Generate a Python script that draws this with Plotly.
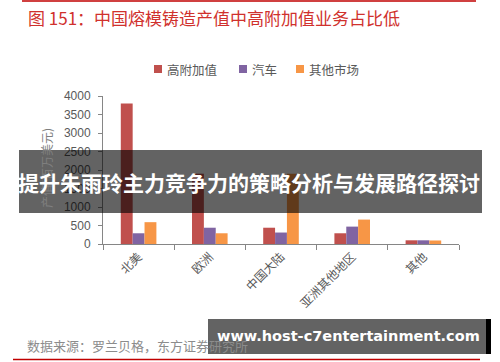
import plotly.graph_objects as go

# ---- data ----
categories = ["北美", "欧洲", "中国大陆", "亚洲其他地区", "其他"]
high_value = [3800, 1900, 440, 290, 100]
auto = [290, 440, 310, 470, 100]
other_market = [590, 290, 1900, 660, 95]
series_names = ["高附加值", "汽车", "其他市场"]
y_ticks = [0, 500, 1000, 1500, 2000, 2500, 3000, 3500, 4000]

W, H = 500, 362
PW, PH = 356, 148
L, T = 103, 96
R, B = W - L - PW, H - T - PH


def px(x):
    return (x - L) / PW


def py(y):
    return (T + PH - y) / PH


CJK = "Noto Sans CJK SC"
colors = ["#C0504D", "#8064A2", "#F79646"]

fig = go.Figure()
for name, vals, c in zip(series_names, [high_value, auto, other_market], colors):
    fig.add_trace(go.Bar(x=categories, y=vals, name=name, marker_color=c,
                         marker_line_width=0, showlegend=False))

fig.update_layout(
    width=W, height=H,
    margin=dict(l=L, r=R, t=T, b=B, autoexpand=False),
    paper_bgcolor="white", plot_bgcolor="white",
    barmode="group", bargap=0.5, bargroupgap=0,
    font=dict(family=CJK, color="#595959", size=12),
)
fig.update_yaxes(range=[0, 4000], tickvals=y_ticks, showgrid=False, zeroline=False,
                 showline=True, linecolor="#868686", linewidth=1,
                 ticks="outside", ticklen=4, tickcolor="#868686",
                 tickfont=dict(family="Liberation Sans, Arial", size=12, color="#595959"),
                 ticklabelstandoff=5, automargin=False)
fig.update_xaxes(showgrid=False, showline=True, linecolor="#868686", linewidth=1,
                 ticks="outside", ticklen=5, tickcolor="#868686", tickson="boundaries",
                 tickangle=-45, tickfont=dict(family=CJK, size=12, color="#595959"),
                 automargin=False)

ann = []
shapes = []
# legend (series names and colours)
legend_sym_x = [154, 239, 296]
for name, c, lx in zip(series_names, colors, legend_sym_x):
    shapes.append(dict(type="rect", xref="paper", yref="paper",
                       x0=px(lx), x1=px(lx + 8), y0=py(65), y1=py(73),
                       fillcolor=c, line_width=0))
    ann.append(dict(x=px(lx + 11), y=py(69), xref="paper", yref="paper",
                    xanchor="left", yanchor="middle", showarrow=False, text=name,
                    font=dict(family=CJK, size=12.5, color="#595959")))

# title
ann.append(dict(x=px(26), y=py(17), xref="paper", yref="paper", xanchor="left",
                yanchor="middle", showarrow=False,
                text="图 151：中国熔模铸造产值中高附加值业务占比低",
                font=dict(family=CJK, size=17, color="#D0312D")))
shapes.append(dict(type="line", xref="paper", yref="paper", x0=px(22), x1=px(476),
                   y0=py(1), y1=py(1), line=dict(color="#C00000", width=1.5)))
# y axis title
ann.append(dict(x=px(46), y=py(168), xref="paper", yref="paper", showarrow=False,
                xanchor="center", yanchor="middle",
                textangle=-90, text="产值(百万美元)",
                font=dict(family=CJK, size=12, color="#7f7f7f")))
# source
ann.append(dict(x=px(25), y=py(345), xref="paper", yref="paper", xanchor="left",
                yanchor="middle", showarrow=False,
                text="数据来源：罗兰贝格，东方证券研究所",
                font=dict(family=CJK, size=13, color="#8c8c8c")))
shapes.append(dict(type="line", xref="paper", yref="paper", x0=px(13), x1=px(480),
                   y0=py(359.5), y1=py(359.5), line=dict(color="#C00000", width=1.5)))

# overlay banner
shapes.append(dict(type="rect", xref="paper", yref="paper", layer="above",
                   x0=px(19), x1=px(482), y0=py(150), y1=py(213),
                   fillcolor="rgba(0,0,0,0.61)", line_width=0))
ann.append(dict(x=px(249), y=py(182), xref="paper", yref="paper", showarrow=False,
                xanchor="center", yanchor="middle",
                text="<b>提升朱雨玲主力竞争力的策略分析与发展路径探讨</b>",
                font=dict(family=CJK, size=21, color="white")))
# watermark
shapes.append(dict(type="rect", xref="paper", yref="paper", layer="above",
                   x0=px(208), x1=px(486), y0=py(319), y1=py(354),
                   fillcolor="rgba(0,0,0,0.61)", line_width=0))
shapes.append(dict(type="rect", xref="paper", yref="paper", layer="above",
                   x0=px(486), x1=px(491), y0=py(319), y1=py(354),
                   fillcolor="black", line_width=0))
ann.append(dict(x=px(348), y=py(336), xref="paper", yref="paper", showarrow=False,
                xanchor="center", yanchor="middle",
                text="<b>www.host-c7entertainment.com</b>",
                font=dict(family="DejaVu Sans", size=14.5, color="white")))

fig.update_layout(annotations=ann, shapes=shapes)
fig.write_html("out.html", config={"displayModeBar": False},
               post_script="document.body.style.margin='0';document.body.style.overflow='hidden';")
